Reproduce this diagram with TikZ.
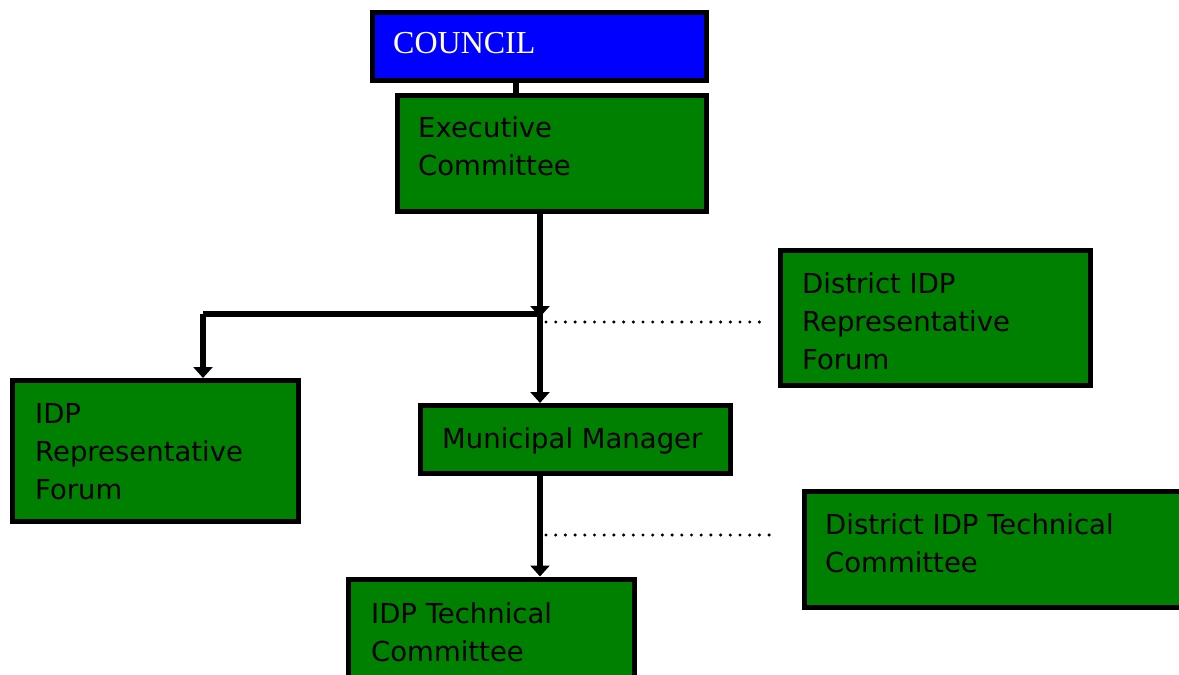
\documentclass[tikz,border=0pt]{standalone}
\usepackage{fontspec}
\setmainfont{DejaVu Sans}
\newfontfamily\councilfont{Liberation Serif}
\usetikzlibrary{arrows.meta}
\definecolor{boxgreen}{RGB}{0,128,0}
\definecolor{boxblue}{RGB}{0,0,255}
\tikzset{
  box/.style={draw=black, line width=5pt, fill=boxgreen, rectangle, inner sep=0pt},
  bluebox/.style={box, fill=boxblue},
  lbl/.style={anchor=base west, inner sep=0pt, align=left, font=\fontsize{27.5}{38}\selectfont},
  clbl/.style={anchor=base west, inner sep=0pt, text=white, font=\councilfont\fontsize{32}{38}\selectfont},
  conn/.style={line width=6.5pt},
  arr/.style={conn, -{Triangle[width=19pt,length=11pt]}},
  dots/.style={line width=3.4pt, line cap=round, dash pattern=on 0pt off 9.7pt}
}
\begin{document}
\begin{tikzpicture}[x=1pt,y=-1pt]
\useasboundingbox (0,0) rectangle (1179,675);
% boxes
\node[bluebox, minimum width=334pt, minimum height=68pt] (council) at (539.5,46.5) {};
\node[box, minimum width=309pt, minimum height=116pt] (exec) at (552,153.5) {};
\node[box, minimum width=310pt, minimum height=135pt] (drf) at (935.5,318) {};
\node[box, minimum width=286pt, minimum height=141pt] (irf) at (155.5,451) {};
\node[box, minimum width=310pt, minimum height=68pt] (mm) at (575.5,439.5) {};
\node[box, minimum width=384pt, minimum height=116pt] (dtc) at (996,549.5) {};
\node[box, minimum width=286pt, minimum height=109pt] (itc) at (491.5,633.5) {};
% texts (base west = baseline of the last line)
\node[clbl] (councilT) at (393,53) {COUNCIL};
\node[lbl] (execT) at (418,175) {Executive\\Committee};
\node[lbl] (drfT) at (802,369) {District IDP\\Representative\\Forum};
\node[lbl] (irfT) at (35,499) {IDP\\Representative\\Forum};
\node[lbl] (mmT) at (442,448) {Municipal Manager};
\node[lbl] (dtcT) at (825,572) {District IDP Technical\\Committee};
\node[lbl] (itcT) at (371,661) {IDP Technical\\Committee};
% connectors
\draw[conn] ([xshift=-23.5pt]council.south) -- ([xshift=-23.5pt]council.south |- exec.north);
\coordinate (j) at (540,314);
\coordinate (k) at (203,314);
\coordinate (m) at (mm.south -| j);
\draw[arr, shorten >=-3pt] ([xshift=-12pt]exec.south) -- (j);
\draw[arr] (j) -- (j |- mm.north);
\draw[conn] (j) -- (k);
\draw[arr] (k) -- (k |- irf.north);
\draw[arr] (m) -- (m |- itc.north);
% dotted links
\coordinate (d1) at (546,322);
\coordinate (d2) at (760,322);
\draw[dots] (d1) -- (d2);
\coordinate (d3) at (546,535);
\coordinate (d4) at (772,535);
\draw[dots] (d3) -- (d4);
\end{tikzpicture}
\end{document}
